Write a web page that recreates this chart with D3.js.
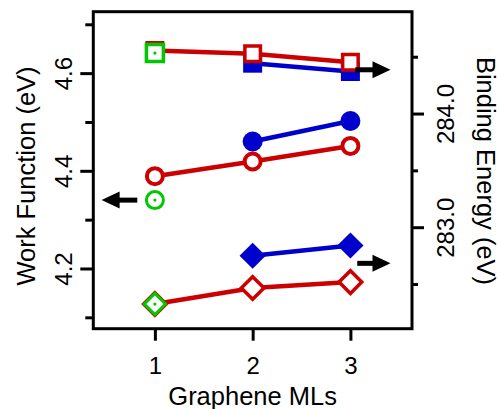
<!DOCTYPE html>
<html>
<head>
<meta charset="utf-8">
<script src="https://cdn.jsdelivr.net/npm/d3@7"></script>
<style>
  html, body { margin: 0; padding: 0; background: #fff; }
  svg { display: block; font-family: "Liberation Sans", Arial, sans-serif; }
</style>
</head>
<body>
<svg id="chart" width="499" height="409"></svg>
<script>
// ---- data ----
const mls = [1, 2, 3];
const mls23 = [2, 3];
const mls1 = [1];

// Work function (left axis), eV
const wfRedCircles = [4.389, 4.419, 4.451];
const wfBlueCircles = [4.460, 4.502];
const wfGreenCircle = [4.340];

// Binding energy (right axis), eV
const beRedSquares = [284.554, 284.526, 284.451];
const beBlueSquares = [284.443, 284.370];
const beGreenSquare = [284.532];
const beRedDiamonds = [282.324, 282.465, 282.517];
const beBlueDiamonds = [282.749, 282.839];
const beGreenDiamond = [282.324];

// ticks
const xTicks = [1, 2, 3];
const leftMajor = [4.2, 4.4, 4.6];
const leftMinor = [4.1, 4.3, 4.5, 4.7];
const rightMajor = [283.0, 284.0];
const rightMinor = [282.5, 283.5, 284.5];

// arrows: [axis, fromML, toML, value]
const arrowAxis = ["left", "right", "right"];
const arrowFrom = [0.82, 3.05, 3.07];
const arrowTo = [0.455, 3.41, 3.41];
const arrowVal = [4.340, 284.385, 282.682];

const xTitle = "Graphene MLs";
const yLeftTitle = "Work Function (eV)";
const yRightTitle = "Binding Energy (eV)";

// ---- layout ----
const W = 499, H = 409;
const m = { left: 93.3, right: 499 - 412, top: 11.7, bottom: 409 - 328.7 };
const RED = "#cc0000", BLUE = "#0000cc", GREEN = "#00c800";

const svg = d3.select("#chart");

const x = d3.scaleLinear().domain([0.37, 3.63]).range([m.left, W - m.right]);
const yL = d3.scaleLinear().domain([4.0767, 4.7258]).range([H - m.bottom, m.top]);
const yR = d3.scaleLinear().domain([282.107, 284.896]).range([H - m.bottom, m.top]);

const TICKW = 3;

function styleAxis(g) {
  g.select(".domain").remove();
  g.selectAll(".tick line").attr("stroke", "#000").attr("stroke-width", TICKW);
  g.selectAll(".tick text").attr("fill", "#000").style("font-size", "24px");
}

// left axis major
const gLM = svg.append("g").attr("transform", `translate(${m.left},0)`)
  .call(d3.axisLeft(yL).tickValues(leftMajor).tickSize(13).tickFormat(d3.format(".1f")));
styleAxis(gLM);
gLM.selectAll(".tick text").attr("x", 0).attr("dy", 0).attr("text-anchor", "middle")
  .attr("transform", "translate(-21,0) rotate(-90)");
const gLm = svg.append("g").attr("transform", `translate(${m.left},0)`)
  .call(d3.axisLeft(yL).tickValues(leftMinor).tickSize(8).tickFormat(""));
styleAxis(gLm);

// right axis
const gRM = svg.append("g").attr("transform", `translate(${W - m.right},0)`)
  .call(d3.axisRight(yR).tickValues(rightMajor).tickSize(12).tickFormat(d3.format(".1f")));
styleAxis(gRM);
gRM.selectAll(".tick text").attr("x", 0).attr("dy", 0).attr("text-anchor", "middle")
  .attr("transform", "translate(41.5,0) rotate(-90)");
const gRm = svg.append("g").attr("transform", `translate(${W - m.right},0)`)
  .call(d3.axisRight(yR).tickValues(rightMinor).tickSize(6).tickFormat(""));
styleAxis(gRm);

// bottom axis
const gX = svg.append("g").attr("transform", `translate(0,${H - m.bottom})`)
  .call(d3.axisBottom(x).tickValues(xTicks).tickSize(12).tickPadding(16).tickFormat(d3.format("d")));
styleAxis(gX);

// frame
svg.append("rect")
  .attr("x", m.left).attr("y", m.top)
  .attr("width", W - m.left - m.right).attr("height", H - m.top - m.bottom)
  .attr("fill", "none").attr("stroke", "#000").attr("stroke-width", 3);

// titles
svg.append("text").attr("x", (m.left + W - m.right) / 2).attr("y", 405)
  .attr("text-anchor", "middle").style("font-size", "25.5px").text(xTitle);
svg.append("text").attr("transform", "translate(35,176) rotate(-90)")
  .attr("text-anchor", "middle").style("font-size", "25.5px").text(yLeftTitle);
svg.append("text").attr("transform", "translate(476.5,171) rotate(90)")
  .attr("text-anchor", "middle").style("font-size", "25.5px").text(yRightTitle);

// ---- series ----
const plot = svg.append("g");
const LW = 4.5;

function line(xs, ys, scale, color) {
  const pts = xs.map((d, i) => [x(d), scale(ys[i])]);
  plot.append("path").attr("d", d3.line()(pts)).attr("fill", "none")
    .attr("stroke", color).attr("stroke-width", LW).attr("stroke-linejoin", "round");
}

function squares(xs, ys, scale, side, fill, stroke, sw, rot) {
  const sym = d3.symbol(d3.symbolSquare).size(side * side);
  plot.selectAll(null).data(xs.map((d, i) => [d, ys[i]])).enter().append("path")
    .attr("d", sym)
    .attr("transform", d => `translate(${x(d[0])},${scale(d[1])}) rotate(${rot})`)
    .attr("fill", fill).attr("stroke", stroke).attr("stroke-width", sw)
    .attr("stroke-linejoin", "miter");
}

function circles(xs, ys, scale, r, fill, stroke, sw) {
  plot.selectAll(null).data(xs.map((d, i) => [d, ys[i]])).enter().append("circle")
    .attr("cx", d => x(d[0])).attr("cy", d => scale(d[1])).attr("r", r)
    .attr("fill", fill).attr("stroke", stroke).attr("stroke-width", sw);
}

function dots(xs, ys, scale) {
  circles(xs, ys, scale, 1.6, GREEN, "none", 0);
}

// lines first (blue under red)
line(mls23, beBlueSquares, yR, BLUE);
line(mls23, wfBlueCircles, yL, BLUE);
line(mls23, beBlueDiamonds, yR, BLUE);
line(mls, beRedSquares, yR, RED);
line(mls, wfRedCircles, yL, RED);
line(mls, beRedDiamonds, yR, RED);

// blue markers
squares(mls23, beBlueSquares, yR, 19, BLUE, "none", 0, 0);
circles(mls23, wfBlueCircles, yL, 10, BLUE, "none", 0);
squares(mls23, beBlueDiamonds, yR, 18.5, BLUE, "none", 0, 45);

// red markers
squares(mls, beRedSquares, yR, 15.5, "#fff", RED, 3.5, 0);
circles(mls, wfRedCircles, yL, 8, "#fff", RED, 4);
squares(mls, beRedDiamonds, yR, 16, "#fff", RED, 3.5, 45);

// green markers
squares(mls1, beGreenSquare, yR, 17, "#fff", GREEN, 3.5, 0);
dots(mls1, beGreenSquare, yR);
circles(mls1, wfGreenCircle, yL, 8.5, "#fff", GREEN, 3);
dots(mls1, wfGreenCircle, yL);
squares(mls1, beGreenDiamond, yR, 15, "#fff", GREEN, 3, 45);
dots(mls1, beGreenDiamond, yR);

// arrows
const HEADL = 18, HEADW = 8.5, ALW = 5;
arrowAxis.forEach((ax, i) => {
  const sc = ax === "left" ? yL : yR;
  const yy = sc(arrowVal[i]);
  const x0 = x(arrowFrom[i]), x1 = x(arrowTo[i]);
  const dir = Math.sign(x1 - x0);
  const xb = x1 - dir * HEADL;
  svg.append("line").attr("x1", x0).attr("y1", yy).attr("x2", xb + dir * 1).attr("y2", yy)
    .attr("stroke", "#000").attr("stroke-width", ALW);
  svg.append("path")
    .attr("d", `M${x1},${yy} L${xb},${yy - HEADW} L${xb},${yy + HEADW} Z`)
    .attr("fill", "#000");
});
</script>
</body>
</html>
